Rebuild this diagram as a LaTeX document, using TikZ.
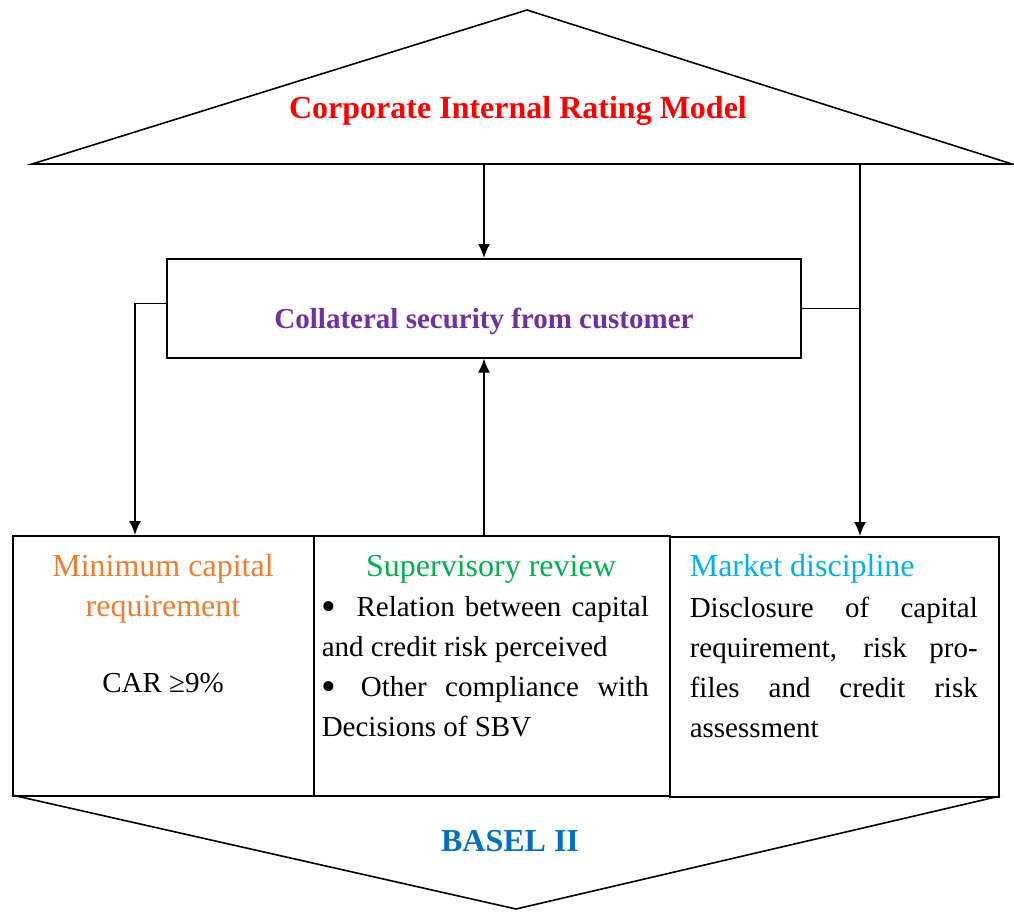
\documentclass[tikz,border=0pt]{standalone}
\usepackage{fontspec}
\setmainfont{Liberation Serif}
\usepackage{tikz}
\usetikzlibrary{arrows.meta,positioning}
\setlength\parindent{0pt}
\definecolor{rating}{RGB}{255,0,0}
\definecolor{collat}{RGB}{112,48,160}
\definecolor{pillarone}{RGB}{237,125,49}
\definecolor{pillartwo}{RGB}{0,176,80}
\definecolor{pillarthree}{RGB}{0,176,240}
\definecolor{basel}{RGB}{0,112,192}
\newcommand{\jline}[2]{\makebox[#1][s]{#2}}
\newcommand{\bigbullet}{\raisebox{-2pt}{\fontsize{21}{20}\selectfont •}}

\begin{document}
\begin{tikzpicture}[x=0.5pt,y=-0.5pt,>={Latex[length=7pt,width=6pt]},line width=0.8pt]
		\tikzstyle{box}=[rectangle, draw=black, anchor=north west, inner sep=0pt]
		\tikzstyle{head}=[font=\bfseries\fontsize{16}{19}\selectfont]
		\tikzstyle{pillar}=[font=\fontsize{16}{20}\selectfont, inner sep=0pt, align=center]
		\tikzstyle{body}=[font=\fontsize{14.5}{20}\selectfont, inner sep=0pt, align=left, anchor=north west]

		\useasboundingbox (0,0) rectangle (1014,912);

		\coordinate (rl) at (32,164);
		\coordinate (rt) at (527,10);
		\coordinate (rr) at (1012,164);
		\draw (rl) -- (rt) -- (rr) -- cycle;
		\node [head, text=rating] (title) at (518,111) {Corporate Internal Rating Model};

		\node [box, minimum width=317pt, minimum height=49.5pt] (c) at (166,258) {};
		\node [head, font=\bfseries\fontsize{14.5}{18}\selectfont, text=collat] (ct) at (484,321) {Collateral security from customer};

		\node [box, minimum width=150.5pt, minimum height=130pt] (m) at (12,535) {};
		\node [box, minimum width=178pt, minimum height=130pt] (s) at (313,535) {};
		\node [box, minimum width=164.5pt, minimum height=130pt] (d) at (669,536) {};

		\node [pillar, text=pillarone] (mh) at (163,589) {Minimum capital\\requirement};
		\node [pillar, font=\fontsize{14.5}{20}\selectfont] (mb) at (163,683) {CAR ≥9\%};

		\node [pillar, text=pillartwo] (sh) at (491,569) {Supervisory review};
		\node [body] (sb) at (321,596) {\jline{163.5pt}{\bigbullet\hspace{5pt} Relation between capital}\\
			and credit risk perceived\\
			\jline{163.5pt}{\bigbullet\hspace{3pt} Other compliance with}\\
			Decisions of SBV};

		\node [pillar, text=pillarthree, anchor=west] (dh) at (689,569) {Market discipline};
		\node [body] (db) at (689,596) {\jline{144pt}{Disclosure of capital}\\
			\jline{144pt}{requirement, risk pro-}\\
			\jline{144pt}{files and credit risk}\\
			assessment};

		\coordinate (bl) at (12,795);
		\coordinate (bt) at (516,909);
		\coordinate (br) at (1000,796);
		\draw (bl) -- (bt) -- (br);
		\node [head, text=basel] (basel) at (510,841) {BASEL II};

		\coordinate (a1) at (484,164);
		\coordinate (a2) at (484,535);
		\coordinate (l1) at (135,535);
		\coordinate (r1) at (860,164);
		\coordinate (r2) at (860,536);
		\draw [->] (a1) -- (a1 |- c.north);
		\draw [->] (a2) -- (a2 |- c.south);
		\draw [->] ([yshift=2.5pt]c.west) -| (l1);
		\draw [->] (r1) -- (r2);
		\draw (c.east) -- (c.east -| r1);
	\end{tikzpicture}
\end{document}
